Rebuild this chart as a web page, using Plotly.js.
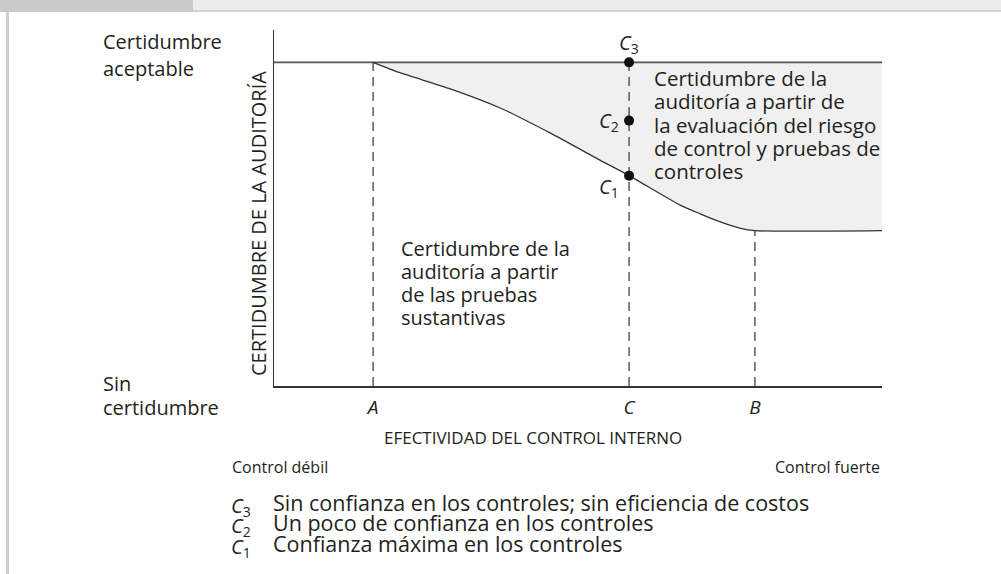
<!DOCTYPE html>
<html>
<head>
<meta charset="utf-8">
<script src="https://cdn.plot.ly/plotly-3.0.1.min.js"></script>
<style>
  html, body { margin: 0; padding: 0; background: #fff; }
  #plot { width: 1001px; height: 574px; }
</style>
</head>
<body>
<div id="plot"></div>
<script>
// positions on the x axis (effectiveness of internal control)
var posA = 16.3, posC = 58.4, posB = 79.1;
var tickLabels = ['<i>A</i>', '<i>C</i>', '<i>B</i>'];

// audit assurance curve from substantive tests
var curveX = [16.3, 20.7, 29.0, 37.2, 45.4, 53.6, 58.4, 66.8, 70.1, 73.4, 76.6, 79.1, 100];
var curveY = [100, 96.8, 91.8, 85.9, 78.2, 69.8, 65.0, 55.9, 53.2, 50.7, 48.8, 48.0, 48.0];

// acceptable assurance level
var topX = [0, 100];
var topY = [100, 100];

// reliance points C1, C2, C3
var pointY = [65, 82, 100];

var rightText = ['Certidumbre de la', 'auditoría a partir de', 'la evaluación del riesgo', 'de control y pruebas de', 'controles'];
var leftText = ['Certidumbre de la', 'auditoría a partir', 'de las pruebas', 'sustantivas'];
var topLabel = ['Certidumbre', 'aceptable'];
var bottomLabel = ['Sin', 'certidumbre'];

var legendKeys = ['<i>C</i><sub>3</sub>', '<i>C</i><sub>2</sub>', '<i>C</i><sub>1</sub>'];
var legendText = [
    'Sin confianza en los controles; sin eficiencia de costos',
    'Un poco de confianza en los controles',
    'Confianza máxima en los controles'
];

var FONT = 'Open Sans, Noto Sans, sans-serif';
var INK = '#231f20';

// plot area in pixels: x 274..882, y 30..386
function px(x) { return (x - 274) / 608; }
function py(y) { return (386 - y) / 356; }

var dash = '9px,6px';

var traces = [
    {
        x: topX, y: topY, mode: 'lines', type: 'scatter',
        line: { color: '#555', width: 1.8 }, hoverinfo: 'skip'
    },
    {
        x: curveX, y: curveY, mode: 'lines', type: 'scatter',
        line: { color: '#333', width: 1.3, shape: 'spline', smoothing: 0.6 },
        fill: 'tonexty', fillcolor: '#f0f0f0', hoverinfo: 'skip'
    },
    {
        x: [posA, posA], y: [0, curveY[0]], mode: 'lines', type: 'scatter',
        line: { color: '#333', width: 1.2, dash: dash }, hoverinfo: 'skip'
    },
    {
        x: [posC, posC], y: [0, 100], mode: 'lines', type: 'scatter',
        line: { color: '#333', width: 1.2, dash: dash }, hoverinfo: 'skip'
    },
    {
        x: [posB, posB], y: [0, curveY[curveY.length - 1]], mode: 'lines', type: 'scatter',
        line: { color: '#333', width: 1.2, dash: dash }, hoverinfo: 'skip'
    },
    {
        x: [posC, posC, posC], y: pointY, mode: 'markers', type: 'scatter',
        marker: { color: '#111', size: 10 }, hoverinfo: 'skip'
    }
];

function note(text, x, y, opts) {
    var a = {
        text: text, xref: 'paper', yref: 'paper', x: px(x), y: py(y),
        showarrow: false, xanchor: 'left', yanchor: 'middle', align: 'left',
        font: { family: FONT, size: 20, color: INK }
    };
    for (var k in opts) a[k] = opts[k];
    return a;
}

var annotations = [];
function block(lines, x, y0, step, opts) {
    for (var i = 0; i < lines.length; i++) {
        annotations.push(note(lines[i], x, y0 + i * step, opts || {}));
    }
}

block(topLabel, 101, 42, 26);
block(bottomLabel, 101, 383, 24);
block(rightText, 652, 78, 23.3, { font: { family: FONT, size: 20.5, color: INK } });
block(leftText, 399, 248, 23.3);

annotations.push(
    note('CERTIDUMBRE DE LA AUDITORÍA', 258, 224, { textangle: -90, xanchor: 'center' }),
    note('EFECTIVIDAD DEL CONTROL INTERNO', 533, 437, { xanchor: 'center', font: { family: FONT, size: 17, color: INK } }),
    note('Control débil', 230, 467, { font: { family: FONT, size: 16, color: INK } }),
    note('Control fuerte', 882, 467, { xanchor: 'right', font: { family: FONT, size: 16, color: INK } }),
    note('<i>C</i><sub>3</sub>', 629, 44, { xanchor: 'center' }),
    note('<i>C</i><sub>2</sub>', 621, 122, { xanchor: 'right' }),
    note('<i>C</i><sub>1</sub>', 621, 187, { xanchor: 'right' })
);

var legendFont = { family: FONT, size: 21.5, color: INK };
for (var i = 0; i < legendKeys.length; i++) {
    annotations.push(note(legendKeys[i], 229, 506 + i * 20.5, { font: { family: FONT, size: 20, color: INK } }));
    annotations.push(note(legendText[i], 271, 502 + i * 20.5, { font: legendFont }));
}

var shapes = [
    { type: 'rect', xref: 'paper', yref: 'paper', x0: px(0), x1: px(193), y0: py(0), y1: py(12), fillcolor: '#cbcbcb', line: { width: 0 }, layer: 'below' },
    { type: 'rect', xref: 'paper', yref: 'paper', x0: px(193), x1: px(1001), y0: py(0), y1: py(10), fillcolor: '#ececec', line: { width: 0 }, layer: 'below' },
    { type: 'rect', xref: 'paper', yref: 'paper', x0: px(193), x1: px(1001), y0: py(10), y1: py(12), fillcolor: '#d2d2d2', line: { width: 0 }, layer: 'below' },
    { type: 'rect', xref: 'paper', yref: 'paper', x0: px(6), x1: px(9), y0: py(12), y1: py(574), fillcolor: '#cfcfcf', line: { width: 0 }, layer: 'below' }
];

var layout = {
    width: 1001,
    height: 574,
    margin: { l: 274, r: 119, t: 30, b: 188 },
    paper_bgcolor: '#fff',
    plot_bgcolor: 'rgba(0,0,0,0)',
    showlegend: false,
    xaxis: {
        range: [0, 100], showgrid: false, zeroline: false,
        showline: true, linecolor: '#333', linewidth: 1.5,
        tickmode: 'array', tickvals: [posA, posC, posB], ticktext: tickLabels,
        ticks: '', ticklabelstandoff: 4,
        tickfont: { family: FONT, size: 19, color: INK },
        fixedrange: true
    },
    yaxis: {
        range: [0, 110], showgrid: false, zeroline: false,
        showline: true, linecolor: '#333', linewidth: 1.5,
        showticklabels: false, ticks: '', fixedrange: true
    },
    annotations: annotations,
    shapes: shapes
};

Plotly.newPlot(document.getElementById('plot'), traces, layout, { displayModeBar: false, staticPlot: true });
</script>
</body>
</html>
